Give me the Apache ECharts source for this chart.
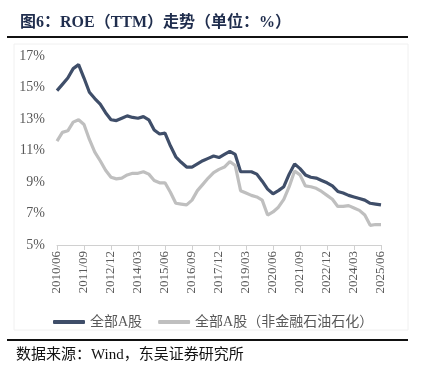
<!DOCTYPE html>
<html><head><meta charset="utf-8">
<script src="https://cdn.jsdelivr.net/npm/echarts@6/dist/echarts.min.js"></script>
<style>html,body{margin:0;padding:0;background:#fff;}#c{width:422px;height:379px;}</style>
</head><body><div id="c"></div>
<script>
const categories = [
"2010/06","2010/09","2010/12","2011/03","2011/06","2011/09","2011/12","2012/03","2012/06","2012/09","2012/12",
"2013/03","2013/06","2013/09","2013/12","2014/03","2014/06","2014/09","2014/12","2015/03","2015/06",
"2015/09","2015/12","2016/03","2016/06","2016/09","2016/12","2017/03","2017/06","2017/09","2017/12",
"2018/03","2018/06","2018/09","2018/12","2019/03","2019/06","2019/09","2019/12","2020/03","2020/06",
"2020/09","2020/12","2021/03","2021/06","2021/09","2021/12","2022/03","2022/06","2022/09","2022/12",
"2023/03","2023/06","2023/09","2023/12","2024/03","2024/06","2024/09","2024/12","2025/03","2025/06"];
const allA = [14.8,15.2,15.6,16.2,16.45,15.6,14.7,14.3,13.95,13.4,12.95,
12.9,13.05,13.2,13.1,13.05,13.15,12.95,12.3,12.05,12.1,
11.3,10.6,10.25,9.95,9.95,10.15,10.35,10.5,10.65,10.55,
10.75,10.95,10.75,9.65,9.65,9.65,9.5,9.05,8.55,8.25,
8.45,8.7,9.5,10.15,9.85,9.45,9.3,9.25,9.1,8.95,
8.75,8.4,8.3,8.15,8.05,7.95,7.85,7.65,7.6,7.55];
const allAExFin = [11.6,12.15,12.25,12.8,12.95,12.65,11.7,10.9,10.35,9.75,9.3,
9.2,9.25,9.45,9.55,9.55,9.65,9.5,9.1,8.95,8.95,
8.35,7.65,7.6,7.55,7.85,8.45,8.85,9.25,9.6,9.8,
9.95,10.3,10.05,8.45,8.3,8.15,8.05,7.85,6.9,7.1,
7.4,7.9,8.7,9.7,9.45,8.75,8.7,8.6,8.4,8.15,
7.9,7.45,7.45,7.5,7.35,7.2,6.9,6.25,6.3,6.3];
const seriesNames = ["全部A股","全部A股（非金融石油石化）"];
const yTicks = {min:5, max:17, interval:2};

const serif = "'Liberation Serif','Times New Roman','Noto Sans CJK SC',serif";
const chart = echarts.init(document.getElementById('c'));
chart.setOption({
  animation:false,
  backgroundColor:'#fff',
  title:{
    text:'图6：ROE（TTM）走势（单位：%）',
    left:15, top:10,
    textStyle:{fontFamily:serif, fontSize:16, fontWeight:'bold', color:'#1f2d4d'}
  },
  graphic:[
    {type:'line', shape:{x1:7,y1:37,x2:408,y2:37}, style:{stroke:'#111',lineWidth:2}},
    {type:'rect', shape:{x:14,y:44,width:394,height:286}, style:{fill:'none',stroke:'#f0f0f0',lineWidth:1}},
    {type:'line', shape:{x1:7,y1:340,x2:408,y2:340}, style:{stroke:'#111',lineWidth:2}},
    {type:'text', left:16, top:348, style:{text:'数据来源：Wind，东吴证券研究所', font:"15px 'Liberation Serif','Noto Sans CJK SC',serif", fill:'#111'}}
  ],
  legend:{
    left:48, top:310, itemGap:16, itemWidth:32, itemHeight:4, icon:'roundRect',
    textStyle:{fontFamily:serif, fontSize:14, color:'#595959'},
    data:seriesNames
  },
  grid:{left:57, right:41, top:56, bottom:134},
  xAxis:{
    type:'category', data:categories, boundaryGap:false,
    axisLine:{lineStyle:{color:'#d0d0d0'}},
    axisTick:{show:true, interval:4, length:5, lineStyle:{color:'#d0d0d0'}},
    axisLabel:{interval:4, rotate:90, fontFamily:serif, fontSize:13, color:'#595959', margin:6}
  },
  yAxis:{
    type:'value', min:yTicks.min, max:yTicks.max, interval:yTicks.interval,
    axisLine:{show:false}, axisTick:{show:false}, splitLine:{show:false},
    axisLabel:{formatter:'{value}%', fontFamily:serif, fontSize:14, color:'#595959', margin:12}
  },
  series:[
    {name:seriesNames[0], type:'line', data:allA, symbol:'none', lineStyle:{color:'#3f4e69', width:3.2}, itemStyle:{color:'#3f4e69'}},
    {name:seriesNames[1], type:'line', data:allAExFin, symbol:'none', lineStyle:{color:'#bfbfbf', width:3.2}, itemStyle:{color:'#bfbfbf'}}
  ]
});
</script></body></html>
